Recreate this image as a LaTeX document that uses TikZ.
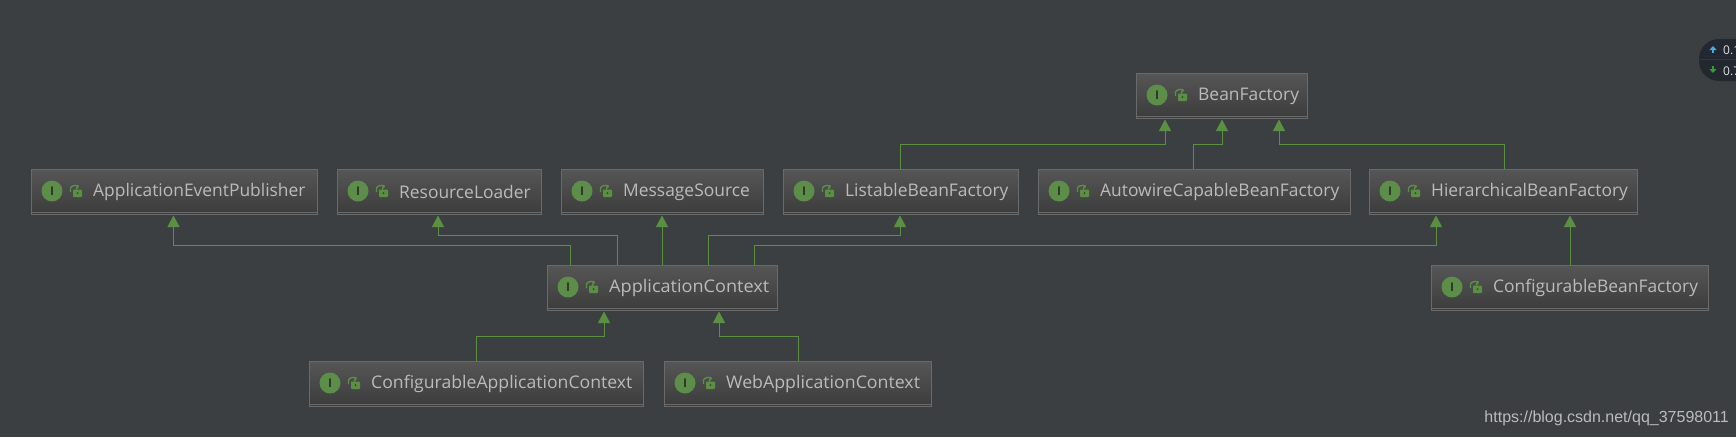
\documentclass[tikz,border=0pt]{standalone}
\usepackage{fontspec}
\usepackage{graphicx}
\setmainfont{Open Sans}
\newfontfamily\wmfont{Liberation Sans}
\usetikzlibrary{calc,arrows.meta}
\definecolor{bgc}{HTML}{3C3F41}
\definecolor{edgec}{HTML}{5B9044}
\definecolor{boxedge}{HTML}{6A6A6A}
\definecolor{boxtop}{HTML}{565656}
\definecolor{boxbot}{HTML}{3C3C3C}
\definecolor{txt}{HTML}{BBBBBB}
\definecolor{badge}{HTML}{5C8D49}
\definecolor{badgetxt}{HTML}{2B3327}
\definecolor{pill}{HTML}{23272F}
\definecolor{pillline}{HTML}{30353E}
\definecolor{uparrow}{HTML}{4FA6DC}
\definecolor{dnarrow}{HTML}{2DA32D}
\tikzset{x=1pt,y=-1pt,
 inh/.style={draw=edgec,line width=1pt,-{Triangle[length=11.5pt,width=12pt,fill=edgec]}},
 ifacebox/.style={draw=boxedge,line width=1pt,top color=boxtop,bottom color=boxbot,anchor=north west,outer sep=0pt,inner sep=0pt,minimum height=45pt},
 classname/.style={anchor=west,inner sep=0pt,text=txt,font=\fontsize{17.4}{19}\selectfont},
 badgedisc/.style={circle,fill=badge,minimum size=21pt,inner sep=0pt,text=badgetxt,font=\fontsize{12}{12}\selectfont\bfseries},
 smalltext/.style={anchor=west,inner sep=0pt,text=white!88!black,font=\fontsize{12}{12}\selectfont}}
% name, x0, y0, width, text
\newcommand{\ubox}[5]{%
 \node[ifacebox,minimum width=#4 pt] (#1) at (#2,#3) {};
 \draw[boxedge,line width=1pt] ($(#1.south west)+(0,-2)$) -- ($(#1.south east)+(0,-2)$);
 \node[badgedisc] (#1-b) at ($(#1.north west)+(21,22)$) {I};
 \draw[edgec,line width=1.4pt] ($(#1.north west)+(39.5,23)$) -- ++(0,-4)
   .. controls +(0,-3.5) and +(6,-3.5) .. ++(6,0) -- ++(0,2);
 \fill[edgec,rounded corners=.8pt] ($(#1.north west)+(42,20.5)$) rectangle ++(9,7.5);
 \fill[boxbot] ($(#1.north west)+(46.5,24.2)$) circle (1pt);
 \node[classname] (#1-t) at ($(#1.north west)+(62,23)$) {#5};
}
% source, dx on its top, rise, target, dx on its bottom
\newcommand{\bent}[5]{%
 \draw[inh] ($(#1.north west)+(#2,0)$) -- ++(0,-#3) -| ($(#4.south west)+(#5,1.5)$);
}
\newcommand{\straight}[4]{%
 \draw[inh] ($(#1.north west)+(#2,0)$) -- ($(#3.south west)+(#4,1.5)$);
}
\begin{document}
\begin{tikzpicture}
\useasboundingbox (0,0) rectangle (1736,437);
\fill[bgc] (0,0) rectangle (1736,437);
% boxes
\ubox{bf}{1136}{73}{171}{BeanFactory}
\ubox{aep}{31}{169}{286}{ApplicationEventPublisher}
\ubox{rl}{337}{169}{204}{ResourceLoader}
\ubox{ms}{561}{169}{202}{MessageSource}
\ubox{lbf}{783}{169}{235}{ListableBeanFactory}
\ubox{acbf}{1038}{169}{312}{AutowireCapableBeanFactory}
\ubox{hbf}{1369}{169}{268}{HierarchicalBeanFactory}
\ubox{ac}{547}{265}{230}{\scalebox{1.04}[1]{ApplicationContext}}
\ubox{cbf}{1431}{265}{277}{ConfigurableBeanFactory}
\ubox{cac}{309}{361}{334}{\scalebox{1.013}[1]{ConfigurableApplicationContext}}
\ubox{wac}{664}{361}{267}{\scalebox{1.02}[1]{WebApplicationContext}}
% connectors
\bent{lbf}{117}{25}{bf}{29}
\bent{acbf}{155}{25}{bf}{86}
\bent{hbf}{135}{25}{bf}{143}
\bent{ac}{23}{20}{aep}{142.5}
\bent{ac}{70}{30}{rl}{101}
\straight{ac}{115}{ms}{101}
\bent{ac}{161}{30}{lbf}{117}
\bent{ac}{207}{20}{hbf}{67}
\straight{cbf}{139}{hbf}{201}
\bent{cac}{167}{25}{ac}{57}
\bent{wac}{134}{25}{ac}{172}
% pill
\begin{scope}
\clip (0,0) rectangle (1736,437);
\fill[pill,rounded corners=20pt] (1699,39) rectangle (1790,81);
\coordinate (divl) at (1699,59.5);
\coordinate (divr) at (1736,59.5);
\draw[pillline] (divl) -- (divr);
\coordinate (u1) at (1713,53);
\coordinate (u2) at (1713,46);
\coordinate (d1) at (1713,66);
\coordinate (d2) at (1713,73);
\draw[uparrow,line width=1.6pt,-{Triangle[length=4pt,width=7pt]}] (u1) -- (u2);
\draw[dnarrow,line width=1.6pt,-{Triangle[length=4pt,width=7pt]}] (d1) -- (d2);
\node[smalltext] (up) at (1723,50.5) {0.1};
\node[smalltext] (dn) at (1723,71) {0.7};
\end{scope}
\node[anchor=east,inner sep=0pt,text=txt,font=\wmfont\fontsize{16}{18}\selectfont] (wm) at (1729,418) {https://blog.csdn.net/qq\_37598011};
\end{tikzpicture}
\end{document}
